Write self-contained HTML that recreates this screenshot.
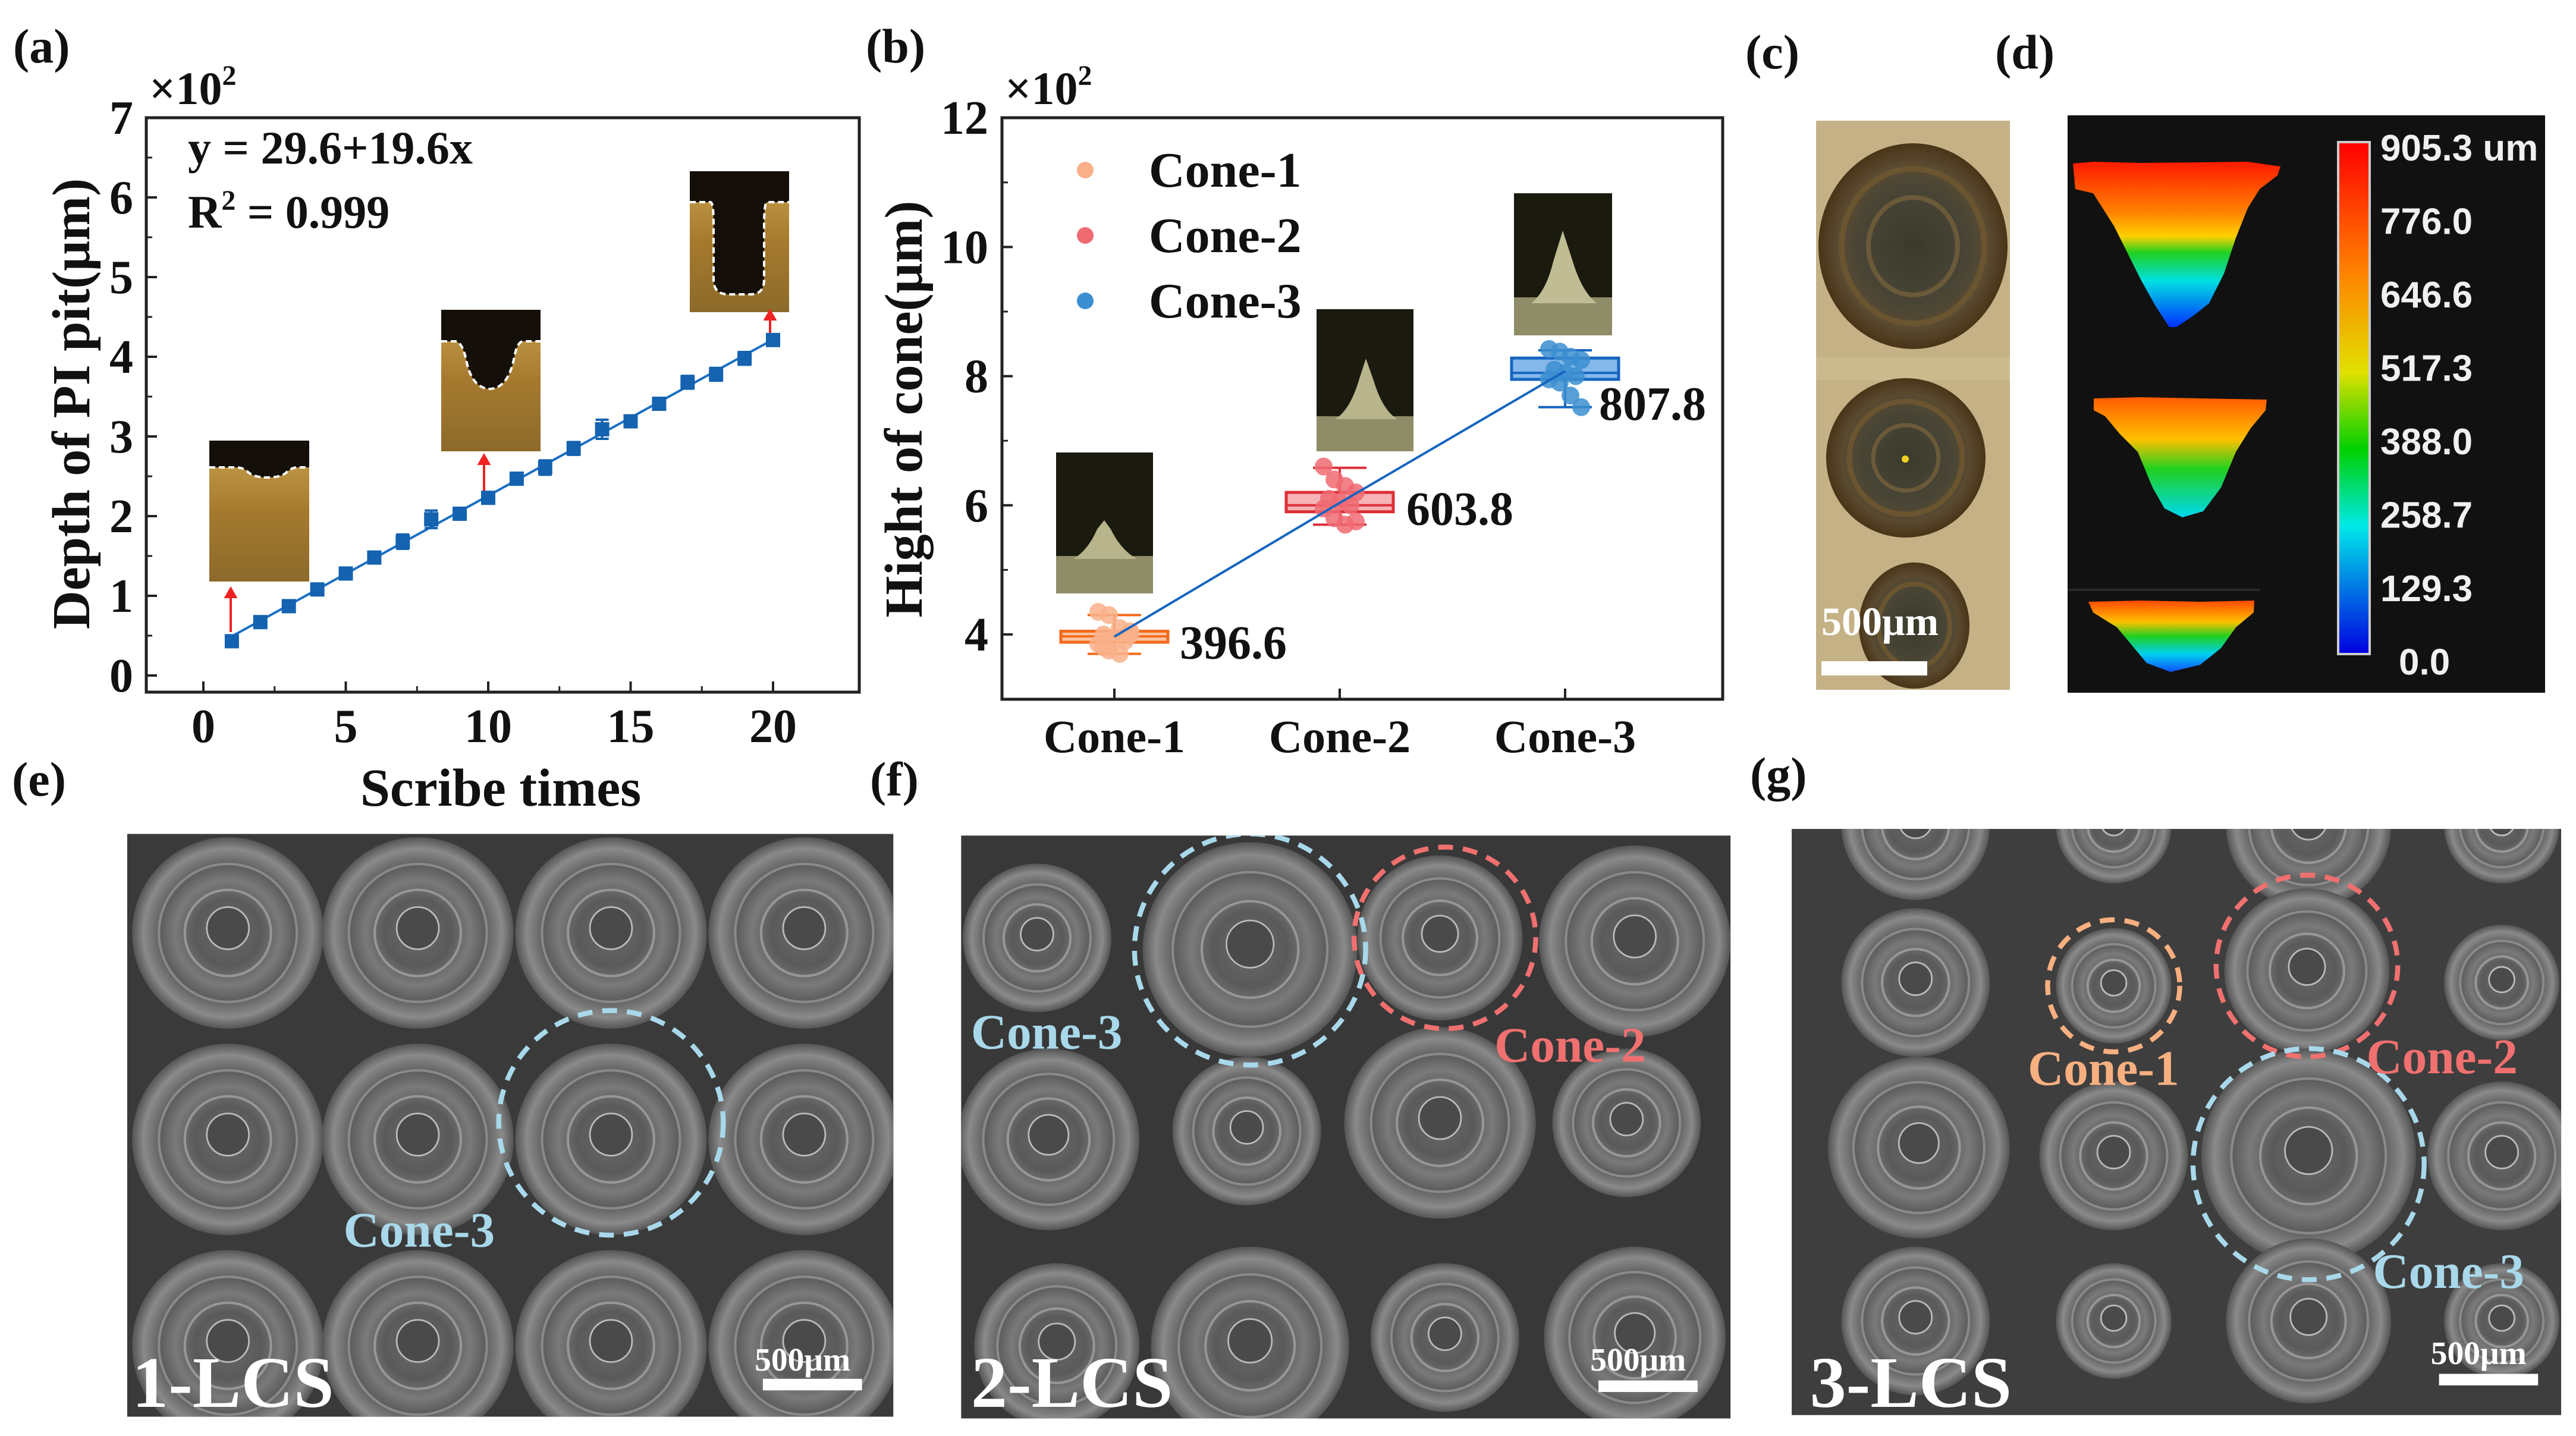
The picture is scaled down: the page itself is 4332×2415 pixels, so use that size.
<!DOCTYPE html>
<html><head><meta charset="utf-8"><style>
html,body{margin:0;padding:0;background:#fff;}
svg{display:block;}
.t{font-family:"Liberation Serif",serif;font-weight:bold;fill:#111;}
.n{font-family:"Liberation Sans Narrow","Liberation Sans",sans-serif;font-weight:bold;fill:#f0f0f0;}
</style></head><body>
<svg id="root" width="4332" height="2415" viewBox="0 0 4332 2415" xmlns="http://www.w3.org/2000/svg">
<defs>
<linearGradient id="gold" x1="0" y1="0" x2="0" y2="1"><stop offset="0" stop-color="#c9a24e"/><stop offset="0.5" stop-color="#a57a2e"/><stop offset="1" stop-color="#8c6a2a"/></linearGradient>
<linearGradient id="heat" x1="0" y1="0" x2="0" y2="1"><stop offset="0" stop-color="#ff1a00"/><stop offset="0.3" stop-color="#ff8000"/><stop offset="0.45" stop-color="#ffd000"/><stop offset="0.55" stop-color="#20d020"/><stop offset="0.72" stop-color="#00e0e0"/><stop offset="1" stop-color="#0030ff"/></linearGradient>
<linearGradient id="heat2" x1="0" y1="0" x2="0" y2="1"><stop offset="0" stop-color="#ff5a00"/><stop offset="0.35" stop-color="#ffc000"/><stop offset="0.6" stop-color="#20d020"/><stop offset="1" stop-color="#00d8f0"/></linearGradient>
<linearGradient id="heat3" x1="0" y1="0" x2="0" y2="1"><stop offset="0" stop-color="#ff4a00"/><stop offset="0.3" stop-color="#ffc000"/><stop offset="0.5" stop-color="#20d020"/><stop offset="0.75" stop-color="#00d0f0"/><stop offset="1" stop-color="#1050ff"/></linearGradient>
<linearGradient id="cbar" x1="0" y1="0" x2="0" y2="1"><stop offset="0" stop-color="#ff0000"/><stop offset="0.25" stop-color="#ff8000"/><stop offset="0.45" stop-color="#e0e000"/><stop offset="0.6" stop-color="#00d000"/><stop offset="0.75" stop-color="#00e8e8"/><stop offset="1" stop-color="#0000e0"/></linearGradient>
<radialGradient id="cone" cx="0.5" cy="0.5" r="0.5"><stop offset="0" stop-color="#6a6a6a"/><stop offset="0.35" stop-color="#5a5a5a"/><stop offset="0.55" stop-color="#7a7a7a"/><stop offset="0.7" stop-color="#5e5e5e"/><stop offset="0.88" stop-color="#8a8a8a"/><stop offset="1" stop-color="#555"/></radialGradient>
<radialGradient id="pit" cx="0.5" cy="0.5" r="0.5"><stop offset="0" stop-color="#3a3a2c"/><stop offset="0.6" stop-color="#4a4636"/><stop offset="0.8" stop-color="#5a4a30"/><stop offset="1" stop-color="#4a3418"/></radialGradient>
</defs>

<text class="t" x="22" y="105" font-size="82">(a)</text>
<text class="t" x="1456" y="105" font-size="82">(b)</text>
<text class="t" x="2935" y="115" font-size="82">(c)</text>
<text class="t" x="3355" y="115" font-size="82">(d)</text>
<text class="t" x="20" y="1338" font-size="82">(e)</text>
<text class="t" x="1463" y="1338" font-size="82">(f)</text>
<text class="t" x="2943" y="1330" font-size="82">(g)</text>

<g id="chartA">
<rect x="246" y="198" width="1199" height="966" fill="none" stroke="#222" stroke-width="5"/>
<text class="t" x="251" y="175" font-size="78">×10<tspan font-size="48" dy="-32">2</tspan></text>
<text class="t" x="316" y="275" font-size="78">y = 29.6+19.6x</text>
<text class="t" x="316" y="383" font-size="78">R<tspan font-size="48" dy="-30">2</tspan><tspan dy="30"> = 0.999</tspan></text>
<text class="t" x="0" y="0" font-size="90" text-anchor="middle" transform="translate(150,679) rotate(-90)">Depth of PI pit(μm)</text>
<text class="t" x="842" y="1355" font-size="90" text-anchor="middle">Scribe times</text>
<g>
<rect x="352" y="741" width="168" height="237" fill="url(#gold)"/>
<path d="M352 741 H520 V786 H500 Q490 786 480 796 Q470 803 450 803 Q425 803 415 792 Q408 786 395 786 H352 Z" fill="#140f08"/>
<path d="M352 786 H395 Q408 786 415 792 Q425 803 450 803 Q470 803 480 796 Q490 786 500 786 H520" fill="none" stroke="#fff" stroke-width="4" stroke-dasharray="10,6"/>
</g>
<g>
<rect x="742" y="521" width="167" height="238" fill="url(#gold)"/>
<path d="M742 521 H909 V574 H880 Q870 574 865 600 Q855 652 825 654 Q795 654 785 610 Q778 574 765 574 H742 Z" fill="#140f08"/>
<path d="M742 574 H765 Q778 574 785 610 Q795 654 825 654 Q855 652 865 600 Q870 574 880 574 H909" fill="none" stroke="#fff" stroke-width="4" stroke-dasharray="10,6"/>
</g>
<g>
<rect x="1160" y="288" width="167" height="237" fill="url(#gold)"/>
<path d="M1160 288 H1327 V340 H1290 Q1285 340 1285 380 V470 Q1285 495 1262 495 H1225 Q1200 495 1200 470 V380 Q1200 340 1195 340 H1160 Z" fill="#140f08"/>
<path d="M1160 340 H1195 Q1200 340 1200 380 V470 Q1200 495 1225 495 H1262 Q1285 495 1285 470 V380 Q1285 340 1290 340 H1327" fill="none" stroke="#fff" stroke-width="4" stroke-dasharray="10,6"/>
</g>
<g stroke="#ee2222" stroke-width="4" fill="#ee2222">
<line x1="388" y1="1063" x2="388" y2="1000"/><path d="M380 1004 L388 990 L396 1004 Z"/>
<line x1="814" y1="826" x2="814" y2="776"/><path d="M806 780 L814 766 L822 780 Z"/>
<line x1="1295" y1="561" x2="1295" y2="533"/><path d="M1287 537 L1295 523 L1303 537 Z"/>
</g>
<g id="axesA"></g>
<g id="marksA"></g>
</g>

<g id="chartB">
<rect x="1685" y="198" width="1212" height="978" fill="none" stroke="#222" stroke-width="5"/>
<text class="t" x="1690" y="175" font-size="78">×10<tspan font-size="48" dy="-32">2</tspan></text>
<text class="t" x="0" y="0" font-size="90" text-anchor="middle" transform="translate(1550,688) rotate(-90)">Hight of cone(μm)</text>
<g><rect x="1776" y="761" width="163" height="237" fill="#1a1a0e"/><rect x="1776" y="935" width="163" height="63" fill="#8f8c68"/><path d="M1805 940 Q1830 925 1845 890 L1857 875 L1868 890 Q1885 925 1912 940 Z" fill="#b8b48c"/></g>
<g><rect x="2214" y="520" width="163" height="239" fill="#1a1a0e"/><rect x="2214" y="700" width="163" height="59" fill="#8f8c68"/><path d="M2245 705 Q2270 690 2285 640 L2297 603 L2310 640 Q2325 690 2350 705 Z" fill="#b8b48c"/></g>
<g><rect x="2546" y="325" width="165" height="239" fill="#1a1a0e"/><rect x="2546" y="500" width="165" height="64" fill="#8f8c68"/><path d="M2575 510 Q2600 490 2612 440 L2628 388 L2645 440 Q2660 490 2685 510 Z" fill="#c0bc94"/></g>
<g id="legendB"></g>
<g id="axesB"></g>
<g id="marksB"></g>
</g>

<g>
<rect x="3054" y="203" width="326" height="957" fill="#c4b185"/>
<rect x="3054" y="600" width="326" height="40" fill="#d0c092" opacity="0.6"/>
<ellipse cx="3217" cy="414" rx="159" ry="173" fill="url(#pit)"/>
<ellipse cx="3217" cy="414" rx="120" ry="130" fill="none" stroke="#6a5530" stroke-width="10"/>
<ellipse cx="3217" cy="414" rx="75" ry="82" fill="none" stroke="#6a5a3a" stroke-width="8"/>
<ellipse cx="3205" cy="770" rx="134" ry="134" fill="url(#pit)"/>
<ellipse cx="3205" cy="770" rx="95" ry="95" fill="none" stroke="#6a5530" stroke-width="9"/>
<ellipse cx="3205" cy="770" rx="55" ry="55" fill="none" stroke="#6a5a3a" stroke-width="7"/>
<circle cx="3204" cy="772" r="6" fill="#f0d020"/>
<ellipse cx="3219" cy="1052" rx="93" ry="106" fill="url(#pit)"/>
<ellipse cx="3219" cy="1052" rx="60" ry="70" fill="none" stroke="#6a5530" stroke-width="8"/>
<text class="t" x="3063" y="1068" font-size="68" style="fill:#fff">500μm</text>
<rect x="3063" y="1112" width="178" height="24" fill="#fff"/>
</g>

<g>
<rect x="3477" y="194" width="803" height="971" fill="#111"/>
<path d="M3486 275 L3520 272 L3600 274 L3700 273 L3780 272 L3835 280 L3830 295 L3800 318 L3780 350 L3760 400 L3740 460 L3715 510 L3690 530 L3660 550 L3648 550 L3625 515 L3600 470 L3575 420 L3555 380 L3520 325 L3490 318 Z" fill="url(#heat)"/>
<path d="M3521 670 L3600 668 L3700 670 L3812 672 L3810 690 L3785 720 L3760 760 L3735 820 L3705 860 L3670 870 L3640 855 L3620 820 L3595 760 L3565 730 L3540 700 L3521 690 Z" fill="url(#heat2)"/>
<line x1="3477" y1="992" x2="3800" y2="992" stroke="#2a2a2a" stroke-width="4"/>
<path d="M3512 1012 L3600 1010 L3700 1012 L3791 1010 L3790 1030 L3760 1055 L3735 1090 L3700 1118 L3650 1130 L3610 1115 L3585 1085 L3560 1055 L3520 1030 Z" fill="url(#heat3)"/>
<rect x="3932" y="239" width="53" height="861" fill="url(#cbar)" stroke="#ccc" stroke-width="4"/>
<g id="cbarLabels"></g>
</g>

<g transform="scale(2.777)">
<g id="semE"><rect x="77" y="505" width="464" height="353" fill="#3a3a3a"/></g>
<g id="semF"><rect x="582" y="506" width="466" height="353" fill="#383838"/></g>
<g id="semG"><rect x="1085" y="502" width="466" height="355" fill="#3e3e3e"/></g>
</g>
</svg>

<script>
const NS="http://www.w3.org/2000/svg";
function mk(parent,tag,attrs,txt){const e=document.createElementNS(NS,tag);for(const k in attrs)e.setAttribute(k,attrs[k]);if(txt!==undefined)e.textContent=txt;parent.appendChild(e);return e;}

const scribeTimes=[1,2,3,4,5,6,7,8,9,10,11,12,13,14,15,16,17,18,19,20];
const depthValues=[0.43,0.67,0.87,1.08,1.28,1.48,1.68,1.96,2.03,2.23,2.47,2.61,2.85,3.09,3.19,3.41,3.68,3.78,3.98,4.21];
const depthErrors=[0.05,0.05,0.05,0.04,0.04,0.07,0.09,0.11,0.07,0.06,0.05,0.09,0.08,0.12,0.06,0.04,0.08,0.08,0.08,0.03];
const xTicksA=[0,5,10,15,20];
const yTicksA=[0,1,2,3,4,5,6,7];
const fitIntercept=0.296, fitSlope=0.196;

const xA=v=>342+v*47.9;
const yA=v=>1136-v*134;
const axA=document.getElementById('axesA');
xTicksA.forEach(v=>{
  const l=mk(axA,'line',{x1:xA(v),x2:xA(v),y1:1164,y2:1146,stroke:'#222','stroke-width':4});
  
  const t=mk(axA,'text',{x:xA(v),y:1248,'font-size':80,'text-anchor':'middle',class:'t'},String(v));
  
  if(v<20){const m=mk(axA,'line',{x1:xA(v+2.5),x2:xA(v+2.5),y1:1164,y2:1154,stroke:'#222','stroke-width':3});
  }
});
yTicksA.forEach(v=>{
  const l=mk(axA,'line',{x1:246,x2:264,y1:yA(v),y2:yA(v),stroke:'#222','stroke-width':4});
  
  const t=mk(axA,'text',{x:224,y:yA(v)+27,'font-size':80,'text-anchor':'end',class:'t'},String(v));
  
  if(v<7){const m=mk(axA,'line',{x1:246,x2:256,y1:yA(v+0.5),y2:yA(v+0.5),stroke:'#222','stroke-width':3});
  }
});
const mA=document.getElementById('marksA');
const fit=mk(mA,'line',{x1:xA(1),y1:yA(fitIntercept+fitSlope*1),x2:xA(20),y2:yA(fitIntercept+fitSlope*20),stroke:'#1a6fc2','stroke-width':4});

scribeTimes.forEach((x,i)=>{
  const cx=xA(x), v=depthValues[i], e=depthErrors[i];
  const g=mk(mA,'g',{stroke:'#1462b0','stroke-width':4});
  
  mk(g,'line',{x1:cx,x2:cx,y1:yA(v-e),y2:yA(v+e)});
  mk(g,'line',{x1:cx-11,x2:cx+11,y1:yA(v-e),y2:yA(v-e)});
  mk(g,'line',{x1:cx-11,x2:cx+11,y1:yA(v+e),y2:yA(v+e)});
  const p=mk(mA,'rect',{x:cx-12,y:yA(v)-12,width:24,height:24,fill:'#1462b0'});
  
});

const coneNames=['Cone-1','Cone-2','Cone-3'];
const coneMeans=[3.966,6.038,8.078];
const meanLabels=['396.6','603.8','807.8'];
const boxQ1=[3.88,5.9,7.95];
const boxQ3=[4.05,6.2,8.28];
const boxMedian=[3.97,6.0,8.05];
const whiskerLow=[3.7,5.7,7.52];
const whiskerHigh=[4.3,6.58,8.4];
const pointsCone1=[4.35,4.3,4.1,4.05,4.0,3.95,3.9,3.85,3.75,3.7,4.0,3.8];
const pointsCone2=[6.6,6.4,6.3,6.2,6.1,6.05,6.0,5.95,5.8,5.7,5.75];
const pointsCone3=[8.42,8.38,8.3,8.25,8.1,8.05,8.0,7.95,7.9,7.7,7.52];
const yTicksB=[4,6,8,10,12];
const conePoints=[pointsCone1,pointsCone2,pointsCone3];
const fills=['#fbc6a3','#f5b3b6','#84b8ea'];
const strokes=['#f26a1b','#dd2e38','#1565c0'];
const dots=['#f9b08a','#f06a72','#3b8ed0'];

const xB=i=>1874+i*379;
const yB=v=>1067-(v-4)*108.6;
const axB=document.getElementById('axesB');
yTicksB.forEach(v=>{
  const l=mk(axB,'line',{x1:1685,x2:1703,y1:yB(v),y2:yB(v),stroke:'#222','stroke-width':4});
  
  const t=mk(axB,'text',{x:1662,y:yB(v)+27,'font-size':80,'text-anchor':'end',class:'t'},String(v));
  
  const m=mk(axB,'line',{x1:1685,x2:1695,y1:yB(v-1),y2:yB(v-1),stroke:'#222','stroke-width':3});
  
});
coneNames.forEach((n,i)=>{
  const l=mk(axB,'line',{x1:xB(i),x2:xB(i),y1:1176,y2:1158,stroke:'#222','stroke-width':4});
  
  const t=mk(axB,'text',{x:xB(i),y:1265,'font-size':78,'text-anchor':'middle',class:'t'},n);
  
});
const mB=document.getElementById('marksB');
coneNames.forEach((n,i)=>{
  const cx=xB(i);
  const g=mk(mB,'g',{});
  
  mk(g,'line',{x1:cx,x2:cx,y1:yB(whiskerLow[i]),y2:yB(whiskerHigh[i]),stroke:strokes[i],'stroke-width':4});
  mk(g,'line',{x1:cx-45,x2:cx+45,y1:yB(whiskerLow[i]),y2:yB(whiskerLow[i]),stroke:strokes[i],'stroke-width':4});
  mk(g,'line',{x1:cx-45,x2:cx+45,y1:yB(whiskerHigh[i]),y2:yB(whiskerHigh[i]),stroke:strokes[i],'stroke-width':4});
  mk(g,'rect',{x:cx-90,y:yB(boxQ3[i]),width:180,height:yB(boxQ1[i])-yB(boxQ3[i]),fill:fills[i],stroke:strokes[i],'stroke-width':5});
  mk(g,'line',{x1:cx-90,x2:cx+90,y1:yB(boxMedian[i]),y2:yB(boxMedian[i]),stroke:strokes[i],'stroke-width':4});
  conePoints[i].forEach((v,k)=>{
    const off=((k*37)%7-3)*9;
    const c=mk(mB,'circle',{cx:cx+off,cy:yB(v),r:15,fill:dots[i],opacity:0.85});
    
  });
});
const meanPath=mk(mB,'polyline',{points:coneMeans.map((v,i)=>xB(i)+','+yB(v)).join(' '),fill:'none',stroke:'#1565c0','stroke-width':4});

const labelDX=[110,112,57];
const labelDY=[55,55,100];
coneNames.forEach((n,i)=>{
  const t=mk(mB,'text',{x:xB(i)+labelDX[i],y:yB(coneMeans[i])+labelDY[i]-18,'font-size':80,class:'t'},meanLabels[i]);
  
});
const lg=document.getElementById('legendB');
coneNames.forEach((n,i)=>{
  const c=mk(lg,'circle',{cx:1825,cy:286+i*110,r:14,fill:dots[i]});
  
  const t=mk(lg,'text',{x:1932,y:314+i*110,'font-size':84,class:'t'},n);
  
});

const cbarValues=['905.3 um','776.0','646.6','517.3','388.0','258.7','129.3','0.0'];
const cl=document.getElementById('cbarLabels');
cbarValues.forEach((s,i)=>{
  const last=i===cbarValues.length-1;
  const t=mk(cl,'text',{x:last?4034:4003,y:270+i*123.5,'font-size':62,class:'n'},s);
  
});

function cones(gid,list){
  const g=document.getElementById(gid);
  list.forEach(c=>{
    const e=mk(g,'circle',{cx:c[0],cy:c[1],r:c[2],fill:'url(#cone)'});
    
    mk(g,'circle',{cx:c[0],cy:c[1],r:c[2]*0.72,fill:'none',stroke:'#9a9a9a','stroke-width':1.5,opacity:0.7});
    mk(g,'circle',{cx:c[0],cy:c[1],r:c[2]*0.45,fill:'none',stroke:'#aaa','stroke-width':1.5,opacity:0.7});
    mk(g,'circle',{cx:c[0],cy:c[1]-c[2]*0.05,r:c[2]*0.22,fill:'#4a4a4a',stroke:'#bbb','stroke-width':1});
  });
}
function clip(gid,x,y,w,h){const g=document.getElementById(gid);const id=gid+'c';const cp=mk(document.querySelector('defs'),'clipPath',{id:id});mk(cp,'rect',{x:x,y:y,width:w,height:h});g.setAttribute('clip-path','url(#'+id+')');}
clip('semE',77,505,464,353);clip('semF',582,506,466,353);clip('semG',1085,502,466,355);
cones('semE',[[138,565,58],[253,565,58],[370,565,58],[487,565,58],[138,690,58],[253,690,58],[370,690,58],[487,690,58],[138,815,58],[253,815,58],[370,815,58],[487,815,58]]);
cones('semF',[[628,568,45],[757,575,65],[872,568,50],[990,570,58],[635,690,55],[755,685,45],[872,680,58],[985,680,45],[640,815,50],[757,815,60],[875,810,45],[990,810,55]]);
cones('semG',[[1160,500,45],[1280,500,35],[1398,500,50],[1515,500,35],[1160,595,45],[1280,597,35],[1397,588,50],[1515,595,35],[1162,695,55],[1280,700,45],[1398,700,65],[1515,700,45],[1160,800,45],[1280,800,35],[1398,800,50],[1515,800,35]]);
function dash(gid,cx,cy,r,col){const c=mk(document.getElementById(gid),'circle',{cx:cx,cy:cy,r:r,fill:'none',stroke:col,'stroke-width':3,'stroke-dasharray':'9,6'});}
function lab(gid,x,y,s,col,fs,name){const t=mk(document.getElementById(gid),'text',{x:x,y:y,'font-size':fs,fill:col,style:'font-family:"Liberation Serif",serif;font-weight:bold;fill:'+col},s);}
dash('semE',370,680,68,'#a8d8ea');lab('semE',208,755,'Cone-3','#a8d8ea',30,'cone-3-label');
lab('semE',80,852,'1-LCS','#fff',44,'sample-label');lab('semE',457,830,'500μm','#fff',20,'scale-label');
mk(document.getElementById('semE'),'rect',{x:462,y:835,width:60,height:7,fill:'#fff'});
dash('semF',757,575,70,'#a8d8ea');dash('semF',875,568,55,'#f07070');
lab('semF',588,635,'Cone-3','#a8d8ea',30,'cone-3-label');lab('semF',905,643,'Cone-2','#f07070',30,'cone-2-label');
lab('semF',588,852,'2-LCS','#fff',44,'sample-label');lab('semF',963,830,'500μm','#fff',20,'scale-label');
mk(document.getElementById('semF'),'rect',{x:968,y:836,width:60,height:7,fill:'#fff'});
dash('semG',1280,597,40,'#f8b080');dash('semG',1397,585,55,'#f07070');dash('semG',1398,705,70,'#a8d8ea');
lab('semG',1228,657,'Cone-1','#f8b080',30,'cone-1-label');lab('semG',1433,650,'Cone-2','#f07070',30,'cone-2-label');lab('semG',1437,780,'Cone-3','#a8d8ea',30,'cone-3-label');
lab('semG',1096,852,'3-LCS','#fff',44,'sample-label');lab('semG',1472,826,'500μm','#fff',20,'scale-label');
mk(document.getElementById('semG'),'rect',{x:1477,y:832,width:60,height:7,fill:'#fff'});
</script>
</body></html>
